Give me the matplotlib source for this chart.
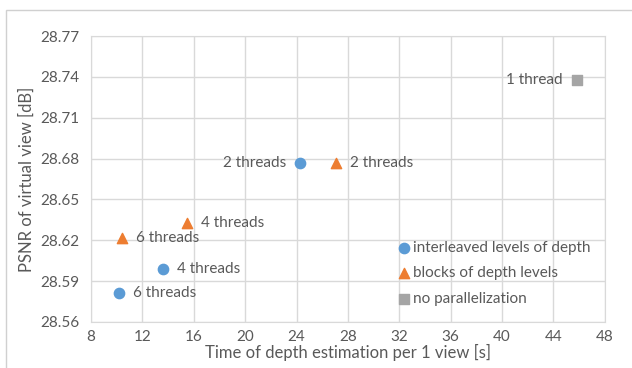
import matplotlib
matplotlib.use('Agg')
import matplotlib.pyplot as plt
from matplotlib.patches import Rectangle

# data
inter_x = [24.3, 13.6, 10.2]
inter_y = [28.677, 28.599, 28.581]
inter_lab = ["2 threads", "4 threads", "6 threads"]

block_x = [27.1, 15.5, 10.4]
block_y = [28.677, 28.633, 28.622]
block_lab = ["2 threads", "4 threads", "6 threads"]

single_x = [45.8]
single_y = [28.738]
single_lab = ["1 thread"]

xticks = [8, 12, 16, 20, 24, 28, 32, 36, 40, 44, 48]
yticks = [28.56, 28.59, 28.62, 28.65, 28.68, 28.71, 28.74, 28.77]

plt.rcParams['font.family'] = ['Lato', 'DejaVu Sans']
txt = '#595959'

fig = plt.figure(figsize=(6.32, 3.68), dpi=100)
ax = fig.add_axes([0.144, 0.125, 0.813, 0.777])

# outer light frame like the screenshot
fig.patches.append(Rectangle((6 / 632, -0.1), 1.1, (358 / 368) + 0.1,
                             transform=fig.transFigure, fill=False,
                             edgecolor='#D0D0D0', linewidth=1))

ax.scatter(inter_x, inter_y, marker='o', s=55, color='#5B9BD5',
           label='interleaved levels of depth', zorder=3)
ax.scatter(block_x, block_y, marker='^', s=55, color='#ED7D31',
           label='blocks of depth levels', zorder=3)
ax.scatter(single_x, single_y, marker='s', s=45, color='#A5A5A5',
           label='no parallelization', zorder=3)

# point labels
for i in range(len(inter_x)):
    if i == 0:
        ax.annotate(inter_lab[i], (inter_x[i], inter_y[i]), xytext=(-14, 0),
                    textcoords='offset pixels', ha='right', va='center',
                    fontsize=11, color=txt)
    else:
        ax.annotate(inter_lab[i], (inter_x[i], inter_y[i]), xytext=(14, 0),
                    textcoords='offset pixels', ha='left', va='center',
                    fontsize=11, color=txt)
for i in range(len(block_x)):
    ax.annotate(block_lab[i], (block_x[i], block_y[i]), xytext=(14, 0),
                textcoords='offset pixels', ha='left', va='center',
                fontsize=11, color=txt)
ax.annotate(single_lab[0], (single_x[0], single_y[0]), xytext=(-14, 0),
            textcoords='offset pixels', ha='right', va='center',
            fontsize=11, color=txt)

ax.set_xlim(8, 48)
ax.set_ylim(28.56, 28.77)
ax.set_xticks(xticks)
ax.set_yticks(yticks)
ax.set_yticklabels(['%.2f' % v for v in yticks])
ax.tick_params(length=0, labelsize=11, labelcolor=txt, pad=8)
ax.tick_params(axis='x', pad=6)
ax.grid(True, color='#D9D9D9', linewidth=1)
ax.set_axisbelow(True)
for s in ax.spines.values():
    s.set_color('#D9D9D9')

ax.set_xlabel('Time of depth estimation per 1 view [s]', fontsize=12,
              color=txt, labelpad=0)
ax.set_ylabel('PSNR of virtual view [dB]', fontsize=12, color=txt,
              labelpad=4)

leg = ax.legend(loc='lower left', bbox_to_anchor=(0.57, 0.02), frameon=False,
                fontsize=11, handletextpad=0.0, handlelength=1.2,
                labelspacing=0.75, borderaxespad=0.3, labelcolor=txt)

plt.savefig('out.png', dpi=100)
